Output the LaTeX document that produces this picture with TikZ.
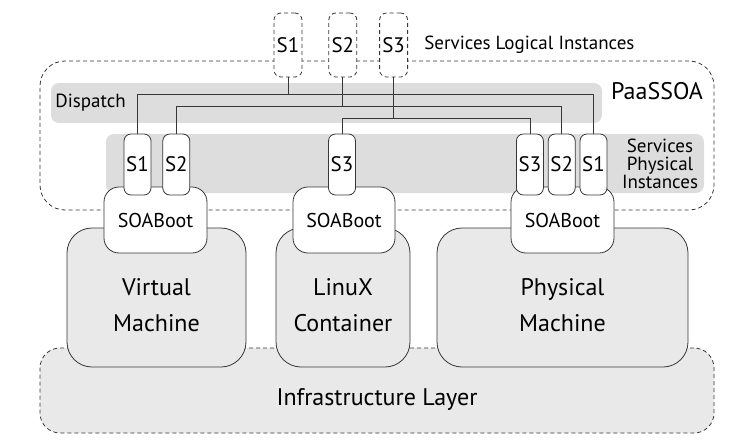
\documentclass[tikz,border=0pt]{standalone}
\usepackage{fontspec}
\setmainfont{PT Sans}
\usetikzlibrary{positioning}

\definecolor{bandgray}{RGB}{221,221,221}
\definecolor{boxgray}{RGB}{233,233,233}
\definecolor{edgegray}{RGB}{55,55,55}

\begin{document}
\begin{tikzpicture}[
            x = 1pt, y = -1pt, % pixel units, y going down
            node distance = 4pt, % gap between instance boxes
            line width = 0.8pt,
            font = \fontsize{21}{24}\selectfont
        ]

        \tikzstyle{frame}=[
            draw = edgegray,
            dash pattern = on 4pt off 3pt,
            rounded corners = 25pt,
            inner sep = 0pt
        ]
        \tikzstyle{band}=[fill = bandgray, rounded corners = 8pt, inner sep = 0pt]
        \tikzstyle{inst}=[
            draw = edgegray,
            fill = white,
            rounded corners = 7pt,
            minimum width = 27pt,
            minimum height = 61pt,
            inner sep = 0pt
        ]
        \tikzstyle{logical}=[inst, dash pattern = on 4pt off 3pt, minimum width = 28pt, minimum height = 64pt]
        \tikzstyle{boot}=[draw = edgegray, fill = white, rounded corners = 15pt, minimum width = 103pt, minimum height = 66pt,
            font = \fontsize{20}{24}\selectfont]
        \tikzstyle{machine}=[draw = edgegray, fill = boxgray, rounded corners = 25pt, minimum height = 139pt]
        \tikzstyle{big}=[font = \fontsize{24}{36}\selectfont, align = center, inner sep = 0pt]
        \tikzstyle{small}=[font = \fontsize{19}{18}\selectfont, align = center, inner sep = 0pt]
        \tikzstyle{wire}=[draw = edgegray, line width = 0.7pt]

        \useasboundingbox (0,0) rectangle (748,442);

        % PaaSSOA frame and the two grey bands
        \node[frame, minimum width = 674pt, minimum height = 149pt] (paas) at (377,135.5) {};
        \node[band, minimum width = 551pt, minimum height = 40pt] (dispatch) at (326.5,103) {};
        \node[band, minimum width = 598pt, minimum height = 59pt] (physband) at (405,163.5) {};
        \node[inner sep = 0pt, anchor = west, font = \fontsize{19}{24}\selectfont] (dispatchtext) at (55,102.5) {Dispatch};
        \node[big] (paastext) at (657,91) {PaaSSOA};
        \node[small] (phystext) at (660,164) {Services\\Physical\\Instances};

        % infrastructure and machines
        \node[frame, fill = boxgray, rounded corners = 20pt, minimum width = 674pt, minimum height = 85pt,
            label = {[big, yshift = -8.5pt]center:Infrastructure Layer}] (infra) at (377,390.5) {};
        \node[machine, minimum width = 179pt, label = {[big, yshift = -8pt]center:Virtual\\Machine}] (vm) at (156.5,297.5) {};
        \node[machine, minimum width = 134pt, label = {[big, yshift = -8pt]center:LinuX\\Container}] (lc) at (343,297.5) {};
        \node[machine, minimum width = 251pt, label = {[big, yshift = -8pt]center:Physical\\Machine}] (pm) at (562.5,297.5) {};

        % SOABoot on each machine
        \node[boot] (vboot) at (155.5,220) {SOABoot};
        \node[boot, minimum width = 102pt] (lboot) at (344,220) {SOABoot};
        \node[boot] (pboot) at (562.5,220) {SOABoot};

        % physical instances
        \node[inst] (vs1) at (137.5,164.5) {S1};
        \node[inst] (vs2) [right = 11pt of vs1] {S2};
        \node[inst] (ls3) at (342,164.5) {S3};
        \node[inst] (ps1) at (593.5,164.5) {S1};
        \node[inst] (ps2) [left = of ps1] {S2};
        \node[inst] (ps3) [left = of ps2] {S3};

        % logical instances
        \node[logical] (l1) at (288,45) {S1};
        \node[logical] (l2) [right = 26pt of l1] {S2};
        \node[logical] (l3) [right = 22pt of l2] {S3};
        \node[inner sep = 0pt, font = \fontsize{19}{24}\selectfont] (logtext) [right = 16pt of l3] {Services Logical Instances};

        % dispatch wires
        \coordinate (bus1) at ([yshift = -17pt]l1.south);
        \coordinate (bus2) at ([yshift = -29pt]l2.south);
        \coordinate (bus3) at ([yshift = -41pt]l3.south);
        \draw[wire] (l1.south) -- (bus1);
        \draw[wire] (vs1.north) |- (bus1) -| (ps1.north);
        \draw[wire] (l2.south) -- (bus2);
        \draw[wire] (vs2.north) |- (bus2) -| (ps2.north);
        \draw[wire] (l3.south) -- (bus3);
        \draw[wire] (ls3.north) |- (bus3) -| (ps3.north);
    \end{tikzpicture}
\end{document}
